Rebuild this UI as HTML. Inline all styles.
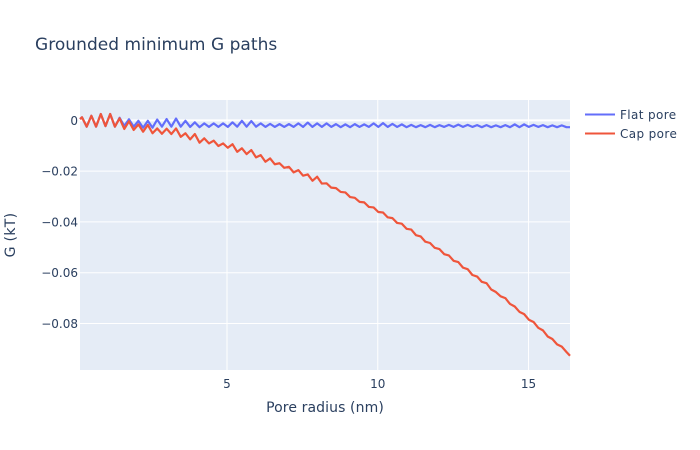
<!DOCTYPE html>
<html>
<head>
<meta charset="utf-8">
<title>Grounded minimum G paths</title>
<style>
html,body{margin:0;padding:0;background:#fff;}
svg{display:block;}
text{font-family:"DejaVu Sans","Liberation Sans",sans-serif;fill:#2a3f5f;}
</style>
</head>
<body>
<svg id="chart" width="700" height="450" viewBox="0 0 700 450" xmlns="http://www.w3.org/2000/svg">
  <rect x="0" y="0" width="700" height="450" fill="#ffffff"/>
  <rect x="80" y="100" width="490" height="270" fill="#E5ECF6"/>
  <g id="grid"></g>
  <g id="traces"></g>
  <g id="xticks"></g>
  <g id="yticks"></g>
  <text x="35" y="50" font-size="17" letter-spacing="0.04">Grounded minimum G paths</text>
  <text x="325" y="412" font-size="14" letter-spacing="0.1" text-anchor="middle">Pore radius (nm)</text>
  <text transform="translate(15,235) rotate(-90)" font-size="14" letter-spacing="0.3" text-anchor="middle">G (kT)</text>
  <g>
    <g>
      <line x1="585" x2="615" y1="114.5" y2="114.5" stroke="#636efa" stroke-width="2"/>
      <text x="620" y="119" font-size="12" letter-spacing="0.38">Flat pore</text>
    </g>
    <g>
      <line x1="585" x2="615" y1="133.5" y2="133.5" stroke="#EF553B" stroke-width="2"/>
      <text x="620" y="138" font-size="12" letter-spacing="0.38">Cap pore</text>
    </g>
  </g>
</svg>
<script>
const radii = [0.125,
0.19,0.346,0.502,0.658,0.814,0.97,1.126,1.282,1.438,1.594,
1.75,1.906,2.062,2.218,2.374,2.53,2.686,2.842,2.998,3.154,
3.31,3.466,3.622,3.778,3.934,4.09,4.246,4.402,4.558,4.714,
4.87,5.026,5.182,5.338,5.494,5.65,5.806,5.962,6.118,6.274,
6.43,6.586,6.742,6.898,7.054,7.21,7.366,7.522,7.678,7.834,
7.99,8.146,8.302,8.458,8.614,8.77,8.926,9.082,9.238,9.394,
9.55,9.706,9.862,10.018,10.174,10.33,10.486,10.642,10.798,10.954,
11.11,11.266,11.422,11.578,11.734,11.89,12.046,12.202,12.358,12.514,
12.67,12.826,12.982,13.138,13.294,13.45,13.606,13.762,13.918,14.074,
14.23,14.386,14.542,14.698,14.854,15.01,15.166,15.322,15.478,15.634,
15.79,15.946,16.102,16.258,16.375];
const flatPore = [0.0005,
0.0012,-0.0025, 0.0018,-0.0025, 0.0025,-0.0023, 0.0025,-0.0025, 0.001,-0.0022,
0.0004,-0.0025, -0.0002,-0.0029, -0.0002,-0.0029, 0.0003,-0.0025, 0.0005,-0.0025,
0.0007,-0.0025, -0.0002,-0.0026, -0.0008,-0.0027, -0.0012,-0.0026, -0.0012,-0.0026,
-0.0012,-0.0026, -0.0008,-0.0025, -0.0002,-0.0025, -0.0003,-0.0025, -0.0012,-0.0026,
-0.0014,-0.0026, -0.0015,-0.0026, -0.0015,-0.0026, -0.0012,-0.0026, -0.0009,-0.0026,
-0.0012,-0.0026, -0.0012,-0.0026, -0.0015,-0.0027, -0.0016,-0.0027, -0.0015,-0.0026,
-0.0016,-0.0026, -0.0012,-0.0026, -0.0011,-0.0026, -0.0014,-0.0026, -0.0016,-0.0027,
-0.0018,-0.0027, -0.0019,-0.0027, -0.0018,-0.0027, -0.0019,-0.0026, -0.0018,-0.0026,
-0.0017,-0.0026, -0.0018,-0.0026, -0.0019,-0.0027, -0.0019,-0.0027, -0.002,-0.0027,
-0.0019,-0.0027, -0.0016,-0.0027, -0.0016,-0.0026, -0.0018,-0.0026, -0.0019,-0.0027,
-0.002,-0.0027, -0.002,-0.0027,
-0.0027];
const capPore = [0.0005,
0.0012,-0.0025, 0.0018,-0.0025, 0.0025,-0.0023, 0.0025,-0.0025, 0.0008,-0.0034,
-0.0004,-0.0038, -0.0016,-0.0045, -0.0018,-0.0051, -0.0032,-0.0053, -0.0033,-0.0054,
-0.0032,-0.0065, -0.0051,-0.0075, -0.0054,-0.0088, -0.0071,-0.0091, -0.008,-0.0101,
-0.0091,-0.0108, -0.0094,-0.0124, -0.011,-0.0133, -0.0117,-0.0146, -0.0137,-0.0163,
-0.015,-0.0173, -0.0169,-0.0187, -0.0183,-0.0205, -0.0196,-0.0218, -0.0213,-0.0238,
-0.0222,-0.0249, -0.0248,-0.0265, -0.0267,-0.0282, -0.0284,-0.0302, -0.0305,-0.0321,
-0.0323,-0.0341, -0.0343,-0.0361, -0.0363,-0.0382, -0.0385,-0.0404, -0.0407,-0.0427,
-0.043,-0.0452, -0.0457,-0.0478, -0.0483,-0.0502, -0.0507,-0.0527, -0.0532,-0.0553,
-0.0558,-0.058, -0.0586,-0.0609, -0.0615,-0.0636, -0.0641,-0.0666, -0.0676,-0.0693,
-0.07,-0.0723, -0.0733,-0.0754, -0.0763,-0.0785, -0.0794,-0.0817, -0.0827,-0.0851,
-0.0861,-0.0882, -0.0891,-0.0912,
-0.0927];
const xTickValues = [5, 10, 15];
const yTickValues = [0, -0.02, -0.04, -0.06, -0.08];
const yTickLabels = ["0", "\u22120.02", "\u22120.04", "\u22120.06", "\u22120.08"];

const NS = "http://www.w3.org/2000/svg";
const plot = {left: 80, right: 570, top: 100, bottom: 370};
const xDomain = [0.125, 16.375];
const yDomain = [-0.0983, 0.008];
function xScale(v) {
  return plot.left + (v - xDomain[0]) / (xDomain[1] - xDomain[0]) * (plot.right - plot.left);
}
function yScale(v) {
  return plot.bottom - (v - yDomain[0]) / (yDomain[1] - yDomain[0]) * (plot.bottom - plot.top);
}
function make(tag, attrs) {
  const el = document.createElementNS(NS, tag);
  for (const k in attrs) el.setAttribute(k, attrs[k]);
  return el;
}
const grid = document.getElementById("grid");
const traces = document.getElementById("traces");
const xticks = document.getElementById("xticks");
const yticks = document.getElementById("yticks");

xTickValues.forEach(function (v) {
  const x = xScale(v);
  const line = make("line", {x1: x, x2: x, y1: plot.top, y2: plot.bottom, stroke: "#ffffff", "stroke-width": 1});
  
  
  grid.appendChild(line);
  const label = make("text", {x: x, y: 388, "font-size": 12, "text-anchor": "middle"});
  
  
  label.textContent = String(v);
  xticks.appendChild(label);
});

yTickValues.forEach(function (v, i) {
  const y = yScale(v);
  const line = make("line", {x1: plot.left, x2: plot.right, y1: y, y2: y, stroke: "#ffffff", "stroke-width": v === 0 ? 2 : 1});
  
  
  grid.appendChild(line);
  const label = make("text", {x: 78, y: y + 4.5, "font-size": 12, "text-anchor": "end"});
  
  
  label.textContent = yTickLabels[i];
  yticks.appendChild(label);
});

function linePoints(values) {
  return values.map(function (v, i) {
    return xScale(radii[i]).toFixed(2) + "," + yScale(v).toFixed(2);
  }).join(" ");
}

const flatLine = make("polyline", {points: linePoints(flatPore), fill: "none", stroke: "#636efa", "stroke-width": 2.2, "stroke-linejoin": "round"});


traces.appendChild(flatLine);

const capLine = make("polyline", {points: linePoints(capPore), fill: "none", stroke: "#EF553B", "stroke-width": 2.2, "stroke-linejoin": "round"});


traces.appendChild(capLine);
</script>
</body>
</html>
